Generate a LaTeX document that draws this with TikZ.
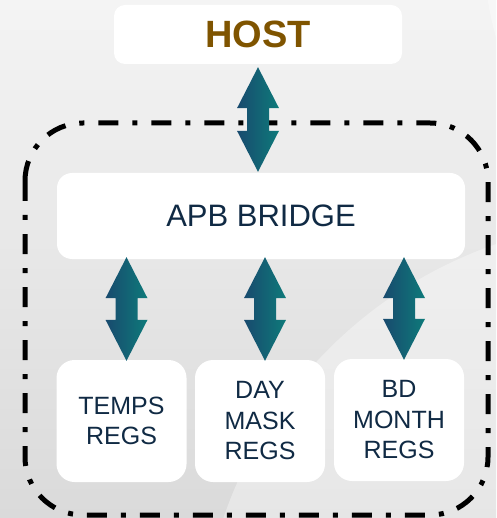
\documentclass[tikz,border=0pt]{standalone}
\usepackage{fontspec}
\setmainfont{Liberation Sans}
\usetikzlibrary{calc}

\definecolor{hostbrown}{RGB}{127,84,0}
\definecolor{navytext}{RGB}{16,42,68}
\definecolor{arrowL}{RGB}{24,74,110}
\definecolor{arrowR}{RGB}{14,122,122}
\definecolor{bgtop}{RGB}{244,244,244}
\definecolor{bgbot}{RGB}{218,218,218}

\tikzset{
  panel/.style={fill=white, rounded corners=#1, inner sep=0pt, text=navytext},
  regbox/.style={panel=18pt, minimum width=130pt, minimum height=122pt,
    align=center, font=\fontsize{25}{30.5}\selectfont},
  boundary/.style={line width=5pt, draw=black,
    dash pattern=on 20pt off 14pt on 5pt off 14pt, rounded corners=58pt},
}

% double-headed block arrow between two points, shaded left to right
\newcommand\blockarrow[2]{%
  \shade[left color=arrowL, right color=arrowR]
    let \p1=(#1), \p2=(#2) in
    (\x1,\y1) -- (\x1+21pt,\y1-41pt) -- (\x1+11pt,\y1-41pt)
    -- (\x1+11pt,\y2+41pt) -- (\x1+21pt,\y2+41pt) -- (\x1,\y2)
    -- (\x1-21pt,\y2+41pt) -- (\x1-11pt,\y2+41pt)
    -- (\x1-11pt,\y1-41pt) -- (\x1-21pt,\y1-41pt) -- cycle;}

\begin{document}
\begin{tikzpicture}[x=1pt, y=-1pt]
  \useasboundingbox (0,0) rectangle (496,518);
  % backdrop
  \shade[top color=bgtop, bottom color=bgbot] (0,0) rectangle (496,518);
  \begin{scope}
    \clip (0,0) rectangle (496,518);
    \fill[white, opacity=0.35] (640,660) circle (440pt);
    \fill[white, opacity=0.35] (760,-40) circle (275pt);
  \end{scope}

  % dash-dot enclosure
  \draw[boundary] (25,123) rectangle (488,515);

  % boxes
  \node[panel=11pt, minimum width=288pt, minimum height=59pt,
        text=hostbrown, font=\fontsize{38}{40}\selectfont\bfseries]
        (host) at (258,34.5) {HOST};
  \node[panel=15pt, minimum width=408pt, minimum height=86pt,
        font=\fontsize{31}{33}\selectfont]
        (bridge) at (261,216) {APB BRIDGE};
  \node[regbox] (temps) at (121.5,421) {TEMPS\\REGS};
  \node[regbox] (day) at (260,421) {DAY\\MASK\\REGS};
  \node[regbox] (bd) at (399,420) {BD\\MONTH\\REGS};

  % bus arrows
  \coordinate (h1) at ($(host.south)+(0,3)$);
  \coordinate (h2) at ($(bridge.north)+(0,-1)$);
  \blockarrow{h1}{h2}
  \foreach \bx in {temps,day,bd}{
    \coordinate (top-\bx) at ($(bridge.south -| \bx.north)+(5,-2)$);
    \coordinate (bot-\bx) at ($(\bx.north)+(5,1)$);
    \blockarrow{top-\bx}{bot-\bx}
  }
\end{tikzpicture}
\end{document}
